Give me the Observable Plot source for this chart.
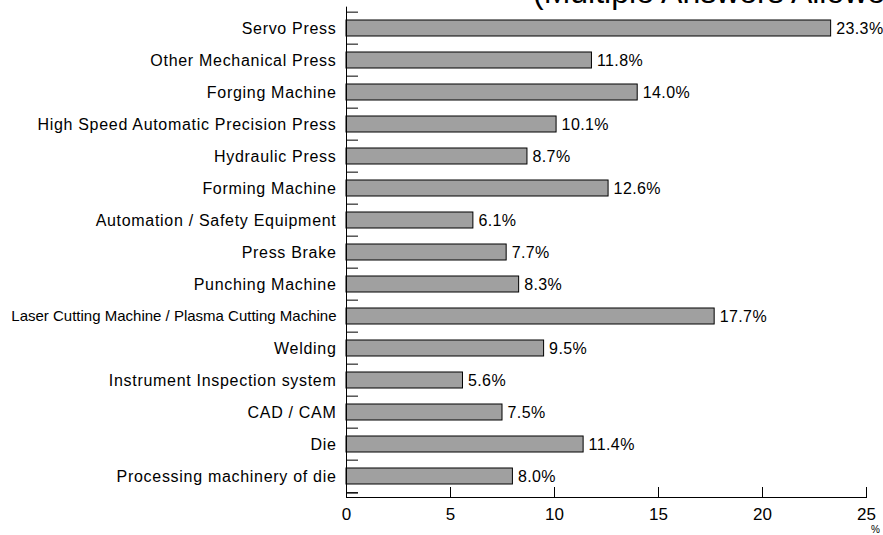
<!DOCTYPE html>
<html>
<head>
<meta charset="utf-8">
<script src="https://cdn.jsdelivr.net/npm/d3@7"></script>
<script src="https://cdn.jsdelivr.net/npm/@observablehq/plot@0.6"></script>
<style>
  html, body { margin: 0; padding: 0; background: #fff; }
  #chart { width: 883px; height: 535px; overflow: hidden; }
  svg { font-family: "Liberation Sans", Arial, sans-serif; }
</style>
</head>
<body>
<div id="chart"></div>
<script>
const categories = [
  "Servo Press",
  "Other Mechanical Press",
  "Forging Machine",
  "High Speed Automatic Precision Press",
  "Hydraulic Press",
  "Forming Machine",
  "Automation / Safety Equipment",
  "Press Brake",
  "Punching Machine",
  "Laser Cutting Machine / Plasma Cutting Machine",
  "Welding",
  "Instrument Inspection system",
  "CAD / CAM",
  "Die",
  "Processing machinery of die"
];
const values = [23.3, 11.8, 14.0, 10.1, 8.7, 12.6, 6.1, 7.7, 8.3, 17.7, 9.5, 5.6, 7.5, 11.4, 8.0];
const xTicks = [0, 5, 10, 15, 20, 25];
const titleText = "(Multiple Answers Allowed)";
const unitLabel = "%";

const data = categories.map((c, i) => ({category: c, value: values[i]}));

const W = 883, H = 535;
const mTop = 6.65, mBottom = 38, mLeft = 346, mRight = 17;
const step = (H - mTop - mBottom) / categories.length;
const pxPerUnit = (W - mLeft - mRight) / 25;

const plot = Plot.plot({
  width: W,
  height: H,
  marginTop: mTop,
  marginBottom: mBottom,
  marginLeft: mLeft,
  marginRight: mRight,
  style: {fontFamily: "Liberation Sans, Arial, sans-serif", fontSize: "16px", color: "#000", background: "#fff"},
  x: {domain: [0, 25], axis: null},
  y: {domain: categories, paddingInner: 0.5, paddingOuter: 0.25, axis: null},
  marks: [
    Plot.barX(data, {x: "value", y: "category", fill: "#a0a0a0", stroke: "#000", strokeWidth: 1}),
    Plot.text(data, {x: "value", y: "category", text: d => d.value.toFixed(1) + "%", textAnchor: "start", dx: 5, fontSize: 16, fill: "#000", className: "vlabel"}),
    Plot.axisY({tickSize: 0, tickPadding: 10, fontSize: 16, label: null,
      tickFormat: d => d,
      fill: "#000", className: "ylabel"}),
    Plot.ruleY(categories, {y: d => d, x1: 0, x2: 12 / pxPerUnit, dy: -step / 2, stroke: "#000"}),
    Plot.ruleY([categories[categories.length - 1]], {y: d => d, x1: 0, x2: 12 / pxPerUnit, dy: step / 2, stroke: "#000", strokeWidth: 1.5}),
    Plot.ruleX([0], {stroke: "#000"}),
    Plot.frame({anchor: "bottom", stroke: "#000"}),
    Plot.axisX(xTicks, {tickSize: -10, tickPadding: 20, fontSize: 17, label: null, fill: "#000", stroke: "#000"})
  ]
});

document.getElementById("chart").appendChild(plot);

const svg = d3.select(plot);
svg.style("overflow", "visible");
svg.selectAll(".ylabel text").style("letter-spacing", "0.7px");
svg.selectAll(".vlabel text").style("letter-spacing", "0.4px");
// the long label is drawn narrower in the reference
svg.selectAll("text").filter(function() { return this.textContent === categories[9]; })
  .attr("font-size", 15).style("font-size", "15px").style("letter-spacing", "0px");
svg.append("text")
  .attr("x", 533).attr("y", 3)
  .attr("font-size", 32)
  .attr("text-anchor", "start")
  .attr("fill", "#000")
  .text(titleText);
svg.append("text")
  .attr("x", W - mRight + 5).attr("y", H - 2)
  .attr("font-size", 10)
  .attr("text-anchor", "start")
  .attr("fill", "#000")
  .text(unitLabel);
</script>
</body>
</html>
